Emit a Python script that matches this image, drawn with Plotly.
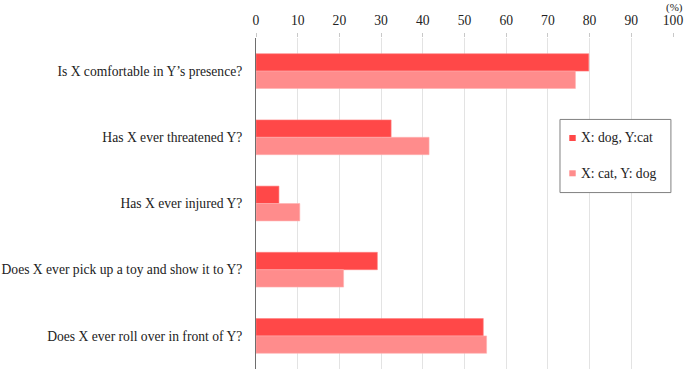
import plotly.graph_objects as go

questions = [
    "Is X comfortable in Y\u2019s presence?",
    "Has X ever threatened Y?",
    "Has X ever injured Y?",
    "Does X ever pick up a toy and show it to Y?",
    "Does X ever roll over in front of Y?",
]
dog_cat = [79.8, 32.4, 5.5, 29.1, 54.5]
cat_dog = [76.6, 41.5, 10.5, 21.0, 55.3]
series_names = ["X: dog, Y:cat", "X: cat, Y: dog"]
series_colors = ["#FF4848", "#FF8C8C"]
x_ticks = [0, 10, 20, 30, 40, 50, 60, 70, 80, 90, 100]

FONT = "Liberation Serif, Times New Roman, serif"
TXT = "#222222"

fig = go.Figure()
fig.add_trace(go.Bar(
    y=questions, x=dog_cat, orientation="h", name=series_names[0],
    marker=dict(color=series_colors[0], line=dict(color="#FF8080", width=0.6)),
))
fig.add_trace(go.Bar(
    y=questions, x=cat_dog, orientation="h", name=series_names[1],
    marker=dict(color=series_colors[1], line=dict(color="#FFB0B0", width=0.6)),
))

# legend box (drawn in paper coordinates of the plot area)
shapes = [dict(type="rect", xref="paper", yref="paper",
               x0=0.729, x1=0.995, y0=0.533, y1=0.754,
               fillcolor="white", line=dict(color="#808080", width=1))]
annotations = []
sq_y = [(0.6888, 0.7069), (0.5822, 0.6003)]
txt_y = [0.6979, 0.5912]
for i in range(2):
    shapes.append(dict(type="rect", xref="paper", yref="paper",
                       x0=0.7513, x1=0.7667, y0=sq_y[i][0], y1=sq_y[i][1],
                       fillcolor=series_colors[i], line=dict(width=0)))
    annotations.append(dict(x=0.7753, y=txt_y[i], xref="paper", yref="paper",
                            text=series_names[i], showarrow=False,
                            xanchor="left", yanchor="middle",
                            font=dict(family=FONT, size=13.6, color=TXT)))

annotations.append(dict(
    x=100, y=1, xref="x", yref="paper", text="(%)",
    showarrow=False, xanchor="center", yanchor="middle", yshift=31, xshift=1,
    font=dict(family=FONT, size=11, color=TXT),
))

fig.update_layout(
    width=685, height=370,
    margin=dict(l=256, r=12, t=38, b=1),
    paper_bgcolor="white", plot_bgcolor="white",
    font=dict(family=FONT, size=13.6, color=TXT),
    barmode="group", bargap=0.475, bargroupgap=0,
    showlegend=False,
    xaxis=dict(
        side="top", range=[0, 100], tickvals=x_ticks,
        showgrid=True, gridcolor="#e3e3e3", gridwidth=1,
        zeroline=False, showline=False,
        ticks="outside", ticklen=4, tickcolor="#c8c8c8",
        tickfont=dict(family=FONT, size=13.6, color=TXT),
        ticklabelstandoff=3,
        automargin=False,
    ),
    yaxis=dict(
        categoryorder="array", categoryarray=questions,
        autorange="reversed",
        showline=True, linecolor="#6e6e6e", linewidth=1,
        showgrid=False, ticks="",
        ticklabelstandoff=10,
        tickfont=dict(family=FONT, size=13.6, color=TXT),
        automargin=False,
    ),
    shapes=shapes,
    annotations=annotations,
)

fig.write_html(
    "out.html",
    config={"displayModeBar": False},
    post_script="document.body.style.margin='0';document.body.style.overflow='hidden';",
)
